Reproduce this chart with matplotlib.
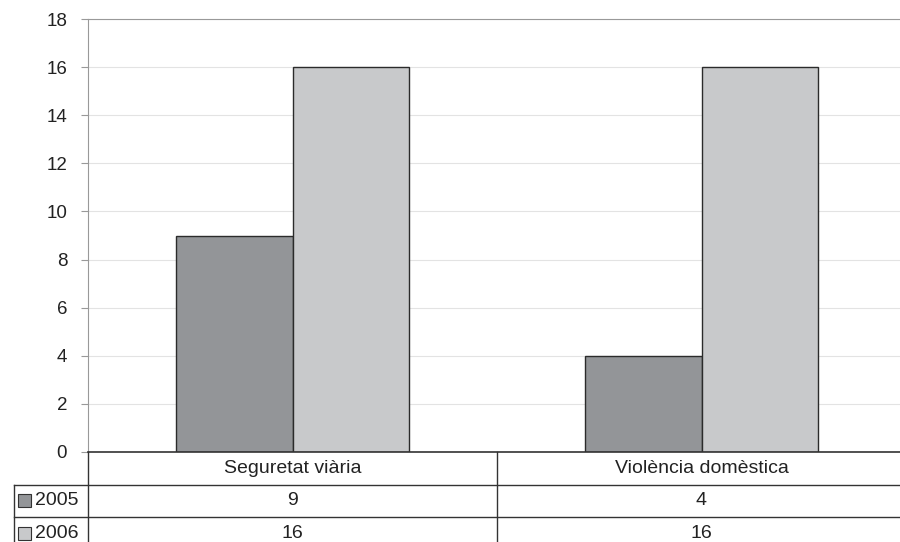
import matplotlib
matplotlib.use('Agg')
import matplotlib.pyplot as plt
from matplotlib.patches import Rectangle

categories = ['Seguretat viària', 'Violència domèstica']
years = ['2005', '2006']
values_2005 = [9, 4]
values_2006 = [16, 16]
colors = ['#939598', '#c8c9cb']

plt.rcParams['font.family'] = ['Liberation Sans', 'DejaVu Sans']

fig = plt.figure(figsize=(9, 5.42), dpi=100)
ax = fig.add_axes([88 / 900, 90 / 542, 818 / 900, 433 / 542])

x = list(range(len(categories)))
w = 0.286
series = [values_2005, values_2006]
for i, vals in enumerate(series):
    pos = [xi + (i - 0.5) * w for xi in x]
    ax.bar(pos, vals, width=w, color=colors[i], edgecolor='#2b2b2b',
           linewidth=1.0, zorder=3)

ax.set_xlim(-0.5, len(categories) - 0.5)
ax.set_ylim(0, 18)
ax.set_yticks(range(0, 19, 2))
ax.set_xticks([])
ax.grid(axis='y', color='#e3e3e3', linewidth=0.8, zorder=0)
for s in ['right', 'bottom']:
    ax.spines[s].set_visible(False)
ax.spines['top'].set_color('#999999')
ax.spines['left'].set_color('#999999')
ax.tick_params(axis='y', length=5, color='#999999', pad=10, labelcolor='#222222',
               labelsize=13.5)

# data table below the plot
tab = fig.add_axes([88 / 900, -7.5 / 542, 818 / 900, 97.5 / 542])
tab.set_xlim(-0.5, len(categories) - 0.5)
tab.set_ylim(3, 0)
tab.axis('off')
unit = 409.0  # pixels per category
left = -0.5 - 74 / unit
lc = '#333333'
tab.plot([-0.5, 1.5], [0, 0], color='#333333', lw=1.2, clip_on=False)
for r in [1, 2]:
    tab.plot([left, 1.5], [r, r], color=lc, lw=1.0, clip_on=False)
tab.plot([-0.5, -0.5], [0, 3], color=lc, lw=1.0, clip_on=False)
tab.plot([left, left], [1, 3], color=lc, lw=1.0, clip_on=False)
for k in range(1, len(categories)):
    tab.plot([k - 0.5, k - 0.5], [0, 3], color=lc, lw=1.0, clip_on=False)

for xi, c in zip(x, categories):
    tab.text(xi, 0.5, c, ha='center', va='center', color='#222222', fontsize=14)
for r, vals in enumerate(series, start=1):
    for xi, v in zip(x, vals):
        tab.text(xi, r + 0.5, str(v), ha='center', va='center', color='#222222',
                 fontsize=14)
    tab.add_patch(Rectangle((left + 4 / unit, r + 0.3), 13 / unit, 0.4,
                            facecolor=colors[r - 1], edgecolor='#333333',
                            lw=0.8, clip_on=False))
    tab.text(left + 21 / unit, r + 0.5, years[r - 1], ha='left', va='center',
             color='#222222', fontsize=14)

fig.savefig('out.png', dpi=100)
